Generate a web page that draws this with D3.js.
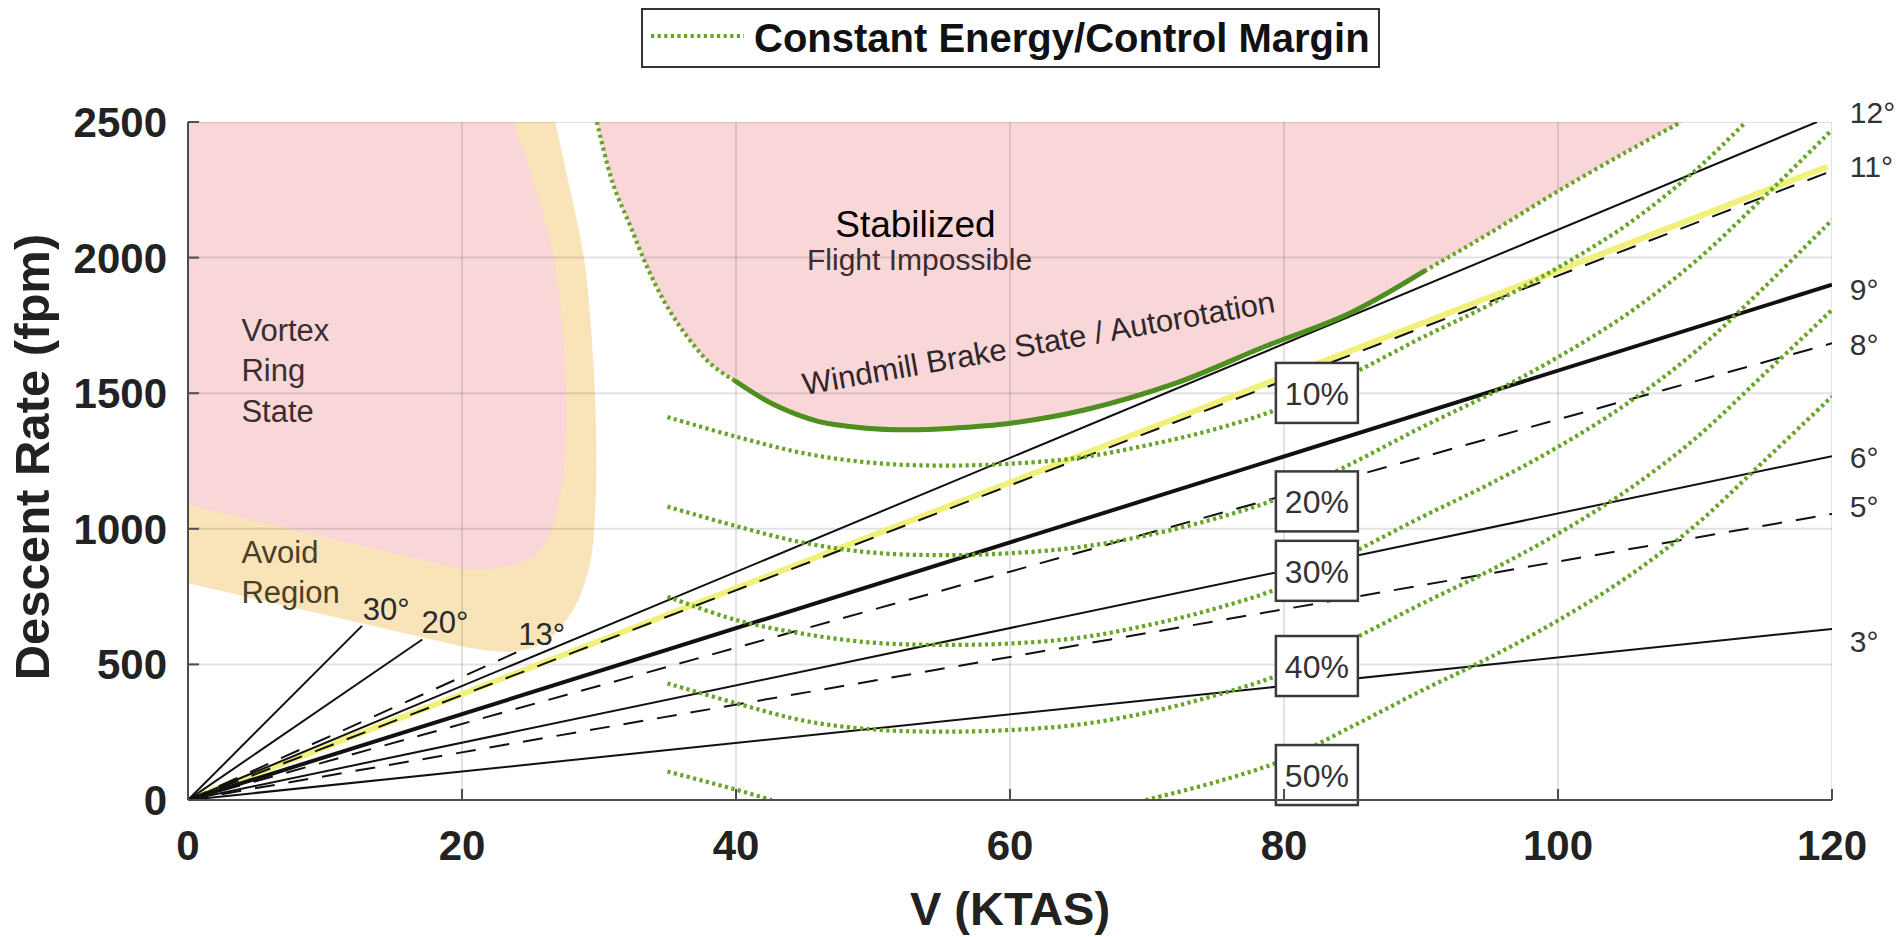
<!DOCTYPE html>
<html>
<head>
<meta charset="utf-8">
<script src="https://cdn.jsdelivr.net/npm/d3@7"></script>
<style>
  html, body { margin: 0; padding: 0; background: #fff; }
  svg { display: block; }
  text { font-family: "Liberation Sans", Arial, Helvetica, sans-serif; }
</style>
</head>
<body>
<svg id="chart" width="1900" height="937"></svg>
<script>
// ---------- axis ticks ----------
const xTicks = [0, 20, 40, 60, 80, 100, 120];
const yTicks = [0, 500, 1000, 1500, 2000, 2500];

// ---------- constant glide-angle lines (from origin to end point) ----------
const glideLabels = ['3°', '5°', '6°', '8°', '9°', '11°', '12°'];
const glideEndV   = [120, 120, 120, 120, 120, 120, 118.9];
const glideEndDR  = [631, 1055, 1268, 1684, 1900, 2320, 2500];

const steepLabels = ['13°', '20°', '30°'];
const steepEndV   = [24.0, 17.1, 12.7];
const steepEndDR  = [545, 592, 642];

// approach path flown (yellow)
const pathV  = [0, 119.5];
const pathDR = [0, 2332];

// ---------- constant energy / control margin curves ----------
const marginLabels = ['10%', '20%', '30%', '40%', '50%'];
const marginV = [35, 40, 45, 50, 55, 60, 65, 70, 75, 80, 85, 90, 95, 100, 105, 110, 115, 120];

const margin10V  = [35, 40, 45, 50, 55, 60, 65, 70, 75, 80, 85, 90, 95, 100, 105, 110, 113.7];
const margin10DR = [1412, 1340, 1278, 1243, 1233, 1240, 1262, 1308, 1368, 1450, 1572, 1703, 1826, 1963, 2120, 2320, 2500];
const margin20DR = [1082, 1010, 948, 912, 903, 910, 932, 976, 1038, 1120, 1242, 1373, 1496, 1633, 1790, 1985, 2222, 2471];
const margin30DR = [750, 664, 612, 580, 572, 577, 598, 644, 706, 788, 912, 1042, 1165, 1302, 1460, 1652, 1888, 2139];
const margin40DR = [430, 357, 292, 260, 252, 258, 278, 322, 386, 468, 592, 722, 845, 982, 1140, 1332, 1568, 1807];
const margin50V  = [35, 37.5, 40, 42.6, null, 69.9, 75, 80, 85, 90, 95, 100, 105, 110, 115, 120];
const margin50DR = [105, 72, 38, 0, null, 0, 66, 148, 272, 402, 525, 662, 820, 1012, 1248, 1488];

// stabilized-flight boundary (dotted) with windmill brake / autorotation segment (solid)
const boundaryV  = [29.85, 31, 32.3, 33.5, 34.7, 35.9, 37, 38, 39, 40, 42.8, 46, 49.3, 52.5, 55.8, 60, 65.5, 72.1, 78.6, 84.8, 90.2, 95, 100, 105, 109];
const boundaryDR = [2500, 2275, 2115, 1967, 1844, 1746, 1672, 1615, 1575, 1543, 1457, 1396, 1372, 1365, 1371, 1389, 1439, 1537, 1672, 1795, 1949, 2090, 2245, 2390, 2500];
const windmillRange = [40, 90.2];

// vortex ring state region and surrounding avoid region
const vrsEdgeV    = [23.75, 25.4, 26.7, 27.3, 27.6, 27.5, 27.0, 26.4, 25.6, 24.5, 22.5, 20.1];
const vrsEdgeDR   = [2500, 2250, 2000, 1750, 1500, 1250, 1080, 980, 915, 880, 855, 850];
const vrsCloseV   = [0, 0];
const vrsCloseDR  = [1088, 2500];
const avoidEdgeV  = [26.8, 27.9, 28.9, 29.4, 29.7, 29.8, 29.7, 29.3, 28.1, 26.2, 23.75, 20.1];
const avoidEdgeDR = [2500, 2250, 2000, 1750, 1500, 1250, 1045, 861, 701, 590, 547, 565];
const avoidCloseV  = [0, 0];
const avoidCloseDR = [799, 2500];

// ---------- styles ----------
const dashedAngles = new Set(['5°', '8°', '11°', '13°']);
const heavyAngles  = new Set(['9°']);
const GREEN = '#68a526';
const PINK = '#f9d6d8';
const TAN = '#f9e3b8';
const DOTS = '3.2,3.4';

// ---------- layout ----------
const svg = d3.select('#chart');
const x = d3.scaleLinear().domain([0, 120]).range([188, 1832]);
const y = d3.scaleLinear().domain([0, 2500]).range([800, 122]);

const zip = (a, b) => a.map((v, i) => [v, b[i]]);
const straight = d3.line().x(d => x(d[0])).y(d => y(d[1]));
const smooth = d3.line().x(d => x(d[0])).y(d => y(d[1])).curve(d3.curveCatmullRom.alpha(0.5));
const smoothGap = d3.line().defined(d => d[0] != null && d[1] != null)
  .x(d => x(d[0])).y(d => y(d[1])).curve(d3.curveCatmullRom.alpha(0.5));

svg.append('defs').append('clipPath').attr('id', 'plotClip')
  .append('rect').attr('x', x(0)).attr('y', y(2500))
  .attr('width', x(120) - x(0)).attr('height', y(0) - y(2500));

const plot = svg.append('g').attr('clip-path', 'url(#plotClip)');

// region = smooth edge followed by straight closing edges
function regionPath(edge, close) {
  return smooth(edge) + straight(close).replace(/^M/, 'L') + 'Z';
}

// ---------- regions ----------
plot.append('path')
  .attr('d', regionPath(zip(avoidEdgeV, avoidEdgeDR), zip(avoidCloseV, avoidCloseDR)))
  .attr('fill', TAN);
plot.append('path')
  .attr('d', regionPath(zip(vrsEdgeV, vrsEdgeDR), zip(vrsCloseV, vrsCloseDR)))
  .attr('fill', PINK);
plot.append('path')
  .attr('d', smooth(zip(boundaryV, boundaryDR)) + 'Z')
  .attr('fill', PINK);

// ---------- grid ----------
const grid = plot.append('g').attr('stroke', '#000').attr('stroke-opacity', 0.11).attr('stroke-width', 2);
grid.selectAll('line.gx').data(xTicks.filter(t => t > 0)).join('line')
  .attr('x1', d => x(d)).attr('x2', d => x(d)).attr('y1', y(0)).attr('y2', y(2500));
grid.selectAll('line.gy').data(yTicks.filter(t => t > 0)).join('line')
  .attr('x1', x(0)).attr('x2', x(120)).attr('y1', d => y(d)).attr('y2', d => y(d));

// ---------- flight path (yellow) ----------
plot.append('path')
  .attr('d', straight(zip(pathV, pathDR)))
  .attr('stroke', '#f1f07a').attr('stroke-width', 6).attr('fill', 'none')
  .attr('stroke-linecap', 'round');

// ---------- glide angle lines ----------
const glide = glideLabels.map((lab, i) => ({ lab, v: glideEndV[i], dr: glideEndDR[i] }))
  .concat(steepLabels.map((lab, i) => ({ lab, v: steepEndV[i], dr: steepEndDR[i] })));
plot.selectAll('path.glide').data(glide).join('path')
  .attr('class', 'glide')
  .attr('d', d => straight([[0, 0], [d.v, d.dr]]))
  .attr('fill', 'none')
  .attr('stroke', '#111')
  .attr('stroke-width', d => heavyAngles.has(d.lab) ? 4 : 2)
  .attr('stroke-dasharray', d => dashedAngles.has(d.lab) ? '20,14' : null);

// ---------- margin curves ----------
const marginSeries = [
  zip(margin10V, margin10DR),
  zip(marginV, margin20DR),
  zip(marginV, margin30DR),
  zip(marginV, margin40DR),
  zip(margin50V, margin50DR)
];
plot.selectAll('path.margin').data(marginSeries).join('path')
  .attr('class', 'margin')
  .attr('d', d => smoothGap(d))
  .attr('fill', 'none').attr('stroke', GREEN)
  .attr('stroke-width', 4.2).attr('stroke-dasharray', DOTS);

const boundary = zip(boundaryV, boundaryDR);
plot.append('path')
  .attr('d', smooth(boundary))
  .attr('fill', 'none').attr('stroke', GREEN)
  .attr('stroke-width', 4.2).attr('stroke-dasharray', DOTS);
plot.append('path')
  .attr('d', smooth(boundary.filter(d => d[0] >= windmillRange[0] && d[0] <= windmillRange[1])))
  .attr('fill', 'none').attr('stroke', '#4f8f1f').attr('stroke-width', 5)
  .attr('stroke-linecap', 'round');

// ---------- annotations ----------
const ann = svg.append('g');
const notes = [
  { t: 'Vortex', v: 3.9, dr: 1692, c: '#382e30' },
  { t: 'Ring', v: 3.9, dr: 1545, c: '#382e30' },
  { t: 'State', v: 3.9, dr: 1394, c: '#382e30' },
  { t: 'Avoid', v: 3.9, dr: 874, c: '#4a3f26' },
  { t: 'Region', v: 3.9, dr: 726, c: '#4a3f26' },
  { t: '30°', v: 12.75, dr: 664, c: '#2a2a2a' },
  { t: '20°', v: 17.05, dr: 616, c: '#2a2a2a' },
  { t: '13°', v: 24.1, dr: 572, c: '#2a2a2a' }
];
ann.selectAll('text.note').data(notes).join('text')
  .attr('x', d => x(d.v)).attr('y', d => y(d.dr))
  .attr('font-size', 31).attr('fill', d => d.c).text(d => d.t);

ann.append('text')
  .attr('x', x(53.1)).attr('y', y(2076))
  .attr('text-anchor', 'middle')
  .attr('font-family', 'Lato, "Open Sans", sans-serif')
  .attr('font-size', 37).attr('fill', '#000').text('Stabilized');
ann.append('text')
  .attr('x', x(53.4)).attr('y', y(1954))
  .attr('text-anchor', 'middle')
  .attr('font-size', 30).attr('fill', '#3a2c2e').text('Flight Impossible');
ann.append('text')
  .attr('transform', `translate(${x(45.0)},${y(1493)}) rotate(-10)`)
  .attr('font-size', 31).attr('fill', '#2e2628')
  .text('Windmill Brake State / Autorotation');

// angle labels at the right-hand edge
const angleLabelDR = [546, 1043, 1224, 1641, 1844, 2297, 2496];
ann.selectAll('text.ang').data(glideLabels).join('text')
  .attr('x', x(121.3)).attr('y', (d, i) => y(angleLabelDR[i]))
  .attr('font-size', 30).attr('fill', '#333').text(d => d);

// margin boxes
const boxV = 82.4;
const boxDR = [1501, 1101, 845, 494, 92];
const boxes = ann.selectAll('g.box').data(marginLabels).join('g')
  .attr('transform', (d, i) => `translate(${x(boxV)},${y(boxDR[i])})`);
boxes.append('rect')
  .attr('x', -41).attr('y', -30).attr('width', 82).attr('height', 60)
  .attr('fill', '#fff').attr('stroke', '#3a3a3a').attr('stroke-width', 2.5);
boxes.append('text')
  .attr('text-anchor', 'middle').attr('y', 12)
  .attr('font-size', 32).attr('fill', '#333').text(d => d);

// ---------- axes ----------
const axes = svg.append('g');
axes.append('line').attr('x1', x(0)).attr('x2', x(0)).attr('y1', y(0)).attr('y2', y(2500))
  .attr('stroke', '#4d4d4d').attr('stroke-width', 2);
axes.append('line').attr('x1', x(0)).attr('x2', x(120)).attr('y1', y(0)).attr('y2', y(0))
  .attr('stroke', '#4d4d4d').attr('stroke-width', 2);
axes.selectAll('line.ty').data(yTicks).join('line')
  .attr('x1', x(0)).attr('x2', x(0) + 11).attr('y1', d => y(d)).attr('y2', d => y(d))
  .attr('stroke', '#4d4d4d').attr('stroke-width', 2);
axes.selectAll('line.tx').data(xTicks).join('line')
  .attr('x1', d => x(d)).attr('x2', d => x(d)).attr('y1', y(0)).attr('y2', y(0) - 11)
  .attr('stroke', '#4d4d4d').attr('stroke-width', 2);

axes.selectAll('text.ly').data(yTicks).join('text')
  .attr('x', 167).attr('y', d => y(d) + 15)
  .attr('text-anchor', 'end').attr('font-size', 42).attr('font-weight', 'bold')
  .attr('fill', '#222').text(d => d);
axes.selectAll('text.lx').data(xTicks).join('text')
  .attr('x', d => x(d)).attr('y', 860)
  .attr('text-anchor', 'middle').attr('font-size', 42).attr('font-weight', 'bold')
  .attr('fill', '#222').text(d => d);

axes.append('text')
  .attr('x', (x(0) + x(120)) / 2).attr('y', 925)
  .attr('text-anchor', 'middle').attr('font-size', 47).attr('font-weight', 'bold')
  .attr('fill', '#222').text('V (KTAS)');
axes.append('text')
  .attr('transform', `translate(49,457) rotate(-90)`)
  .attr('text-anchor', 'middle').attr('font-size', 49).attr('font-weight', 'bold')
  .attr('fill', '#222').text('Descent Rate (fpm)');

// ---------- legend ----------
const legend = svg.append('g');
legend.append('rect').attr('x', 642).attr('y', 9).attr('width', 737).attr('height', 58)
  .attr('fill', '#fff').attr('stroke', '#333').attr('stroke-width', 2);
legend.append('line').attr('x1', 651).attr('x2', 744).attr('y1', 36).attr('y2', 36)
  .attr('stroke', GREEN).attr('stroke-width', 4.2).attr('stroke-dasharray', DOTS);
legend.append('text').attr('x', 754).attr('y', 52)
  .attr('font-size', 40).attr('font-weight', 'bold').attr('fill', '#111')
  .text('Constant Energy/Control Margin');
</script>
</body>
</html>
